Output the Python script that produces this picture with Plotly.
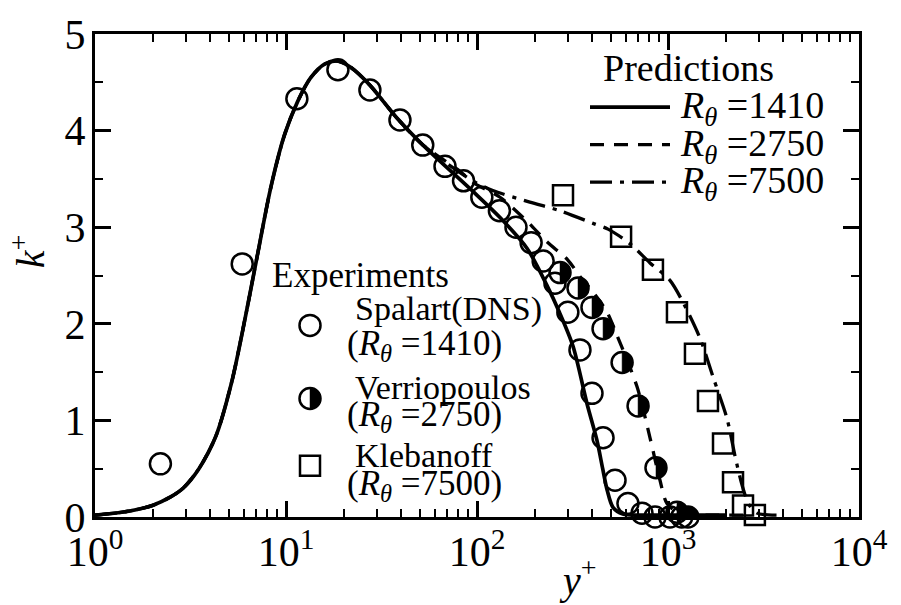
import plotly.graph_objects as go

# ---------------- data ----------------
# Experiments: Spalart DNS (R_theta = 1410)
spalart_y = [2.2, 5.9, 11.4, 18.7, 27.5, 39.5, 52, 68, 85, 106, 131, 160, 192, 222,
             256, 299, 346, 400, 457, 528, 617, 731, 855, 1024, 1180]
spalart_k = [0.55, 2.62, 4.33, 4.63, 4.42, 4.11, 3.85, 3.63, 3.48, 3.31, 3.17, 3.00,
             2.84, 2.65, 2.42, 2.12, 1.73, 1.28, 0.82, 0.38, 0.14, 0.04, 0.0, 0.0, 0.0]

# Experiments: Verriopoulos (R_theta = 2750)
verrio_y = [272, 338, 400, 457, 575, 697, 865, 1114, 1272]
verrio_k = [2.53, 2.37, 2.17, 1.95, 1.60, 1.15, 0.51, 0.05, 0.0]

# Experiments: Klebanoff (R_theta = 7500)
kleb_y = [282, 568, 834, 1114, 1384, 1619, 1941, 2190, 2470, 2850]
kleb_k = [3.33, 2.90, 2.56, 2.12, 1.69, 1.20, 0.76, 0.36, 0.12, 0.02]

# Predictions: near-wall part shared by all three cases
wall_y = [1, 1.5, 2.0, 2.5, 2.9, 3.5, 4.3, 5.2, 6.1, 7.1, 8.3, 9.8, 11.5, 13.5,
          16, 18.7, 22, 27.5, 38.1, 52.1]
wall_k = [0.02, 0.06, 0.12, 0.21, 0.30, 0.50, 0.84, 1.40, 2.05, 2.72, 3.40, 3.95,
          4.30, 4.55, 4.69, 4.72, 4.65, 4.47, 4.13, 3.85]

# Predictions: outer parts
pred1410_y = [69.7, 95.3, 132, 183, 232, 270, 318, 377, 425, 455, 480, 515, 580, 700,
              1000, 1500, 2000]
pred1410_k = [3.65, 3.37, 3.10, 2.78, 2.40, 2.12, 1.77, 1.17, 0.79, 0.50, 0.28, 0.10,
              0.03, 0.02, 0.02, 0.02, 0.02]

pred2750_y = [69.7, 81.5, 94, 132, 183, 232, 299, 346, 415, 480, 541, 688, 805, 908,
              988, 1156, 1600, 2500]
pred2750_k = [3.65, 3.58, 3.47, 3.31, 3.06, 2.85, 2.66, 2.49, 2.30, 2.12, 1.88, 1.35,
              0.82, 0.38, 0.14, 0.04, 0.02, 0.02]

pred7500_y = [69.7, 95, 121, 189, 272, 405, 485, 632, 805, 1024, 1200, 1471, 1721,
              2036, 2250, 2450, 2650, 2925, 3700]
pred7500_k = [3.66, 3.48, 3.38, 3.26, 3.17, 3.04, 2.98, 2.83, 2.63, 2.45, 2.22, 1.85,
              1.45, 1.02, 0.62, 0.32, 0.13, 0.04, 0.02]

x_tickvals = [1, 10, 100, 1000, 10000]
x_ticktext = ["10<sup>0</sup>", "10<sup>1</sup>", "10<sup>2</sup>",
              "10<sup>3</sup>", "10<sup>4</sup>"]

# ---------------- layout helpers ----------------
W, H = 901, 605
ML, MR, MT, MB = 95, 42, 28, 88
PW, PH = W - ML - MR, H - MT - MB
SERIF = "Liberation Serif"
BLACK = "black"


def px2paper(px, py):
    return (px - ML) / PW, (H - MB - py) / PH


def half_disk(r):
    c = 0.5523 * r
    return (f"M0,{-r} C{c:.3f},{-r} {r},{-c:.3f} {r},0 "
            f"C{r},{c:.3f} {c:.3f},{r} 0,{r} Z")


def text(s, px, py, size, xanchor="left", **kw):
    x, y = px2paper(px, py)
    return dict(text=s, x=x, y=y, xref="paper", yref="paper", xanchor=xanchor,
                yanchor="middle", showarrow=False,
                font=dict(family=SERIF, size=size, color=BLACK), **kw)


SOLID = dict(color=BLACK, width=3.7, dash="solid")
DASH = dict(color=BLACK, width=3.3, dash="14px,10px")
DASHDOT = dict(color=BLACK, width=3.3, dash="22px,8px,4px,8px")

fig = go.Figure()

for ys, ks, style in [(wall_y + pred1410_y[1:], wall_k + pred1410_k[1:], SOLID),
                      (wall_y + pred2750_y[1:], wall_k + pred2750_k[1:], DASH),
                      (wall_y + pred7500_y[1:], wall_k + pred7500_k[1:], DASHDOT)]:
    fig.add_trace(go.Scatter(x=ys, y=ks, mode="lines",
                             line=dict(style, shape="spline", smoothing=0.8),
                             showlegend=False, hoverinfo="skip"))

circle_marker = dict(symbol="circle-open", size=21, color=BLACK, line=dict(width=2.5))
fig.add_trace(go.Scatter(x=spalart_y, y=spalart_k, mode="markers",
                         marker=circle_marker, cliponaxis=False, showlegend=False))
fig.add_trace(go.Scatter(x=verrio_y, y=verrio_k, mode="markers",
                         marker=circle_marker, cliponaxis=False, showlegend=False))
fig.add_trace(go.Scatter(x=kleb_y, y=kleb_k, mode="markers",
                         marker=dict(symbol="square-open", size=20, color=BLACK,
                                     line=dict(width=2.5)),
                         cliponaxis=False, showlegend=False))

# empty trace that carries the mirrored top/right tick axes
fig.add_trace(go.Scatter(x=[], y=[], xaxis="x2", yaxis="y2", showlegend=False))

shapes = []
# right half of each Verriopoulos circle filled black
for xv, kv in zip(verrio_y, verrio_k):
    shapes.append(dict(type="path", xref="x", yref="y", xsizemode="pixel",
                       ysizemode="pixel", xanchor=xv, yanchor=kv,
                       path=half_disk(10.5), fillcolor=BLACK,
                       line=dict(color=BLACK, width=0.5), layer="above"))

annotations = []

# ---- Predictions key ----
annotations.append(text("Predictions", 688, 62, 38, xanchor="center"))
for py, style, label in [(102, SOLID, "1410"), (140, DASH, "2750"), (178, DASHDOT, "7500")]:
    x0, y0 = px2paper(590, py)
    x1, _ = px2paper(670, py)
    shapes.append(dict(type="line", xref="paper", yref="paper", x0=x0, x1=x1, y0=y0, y1=y0,
                       line=dict(color=BLACK, width=style["width"], dash=style["dash"])))
    annotations.append(text(f"<i>R</i><sub><i>θ</i></sub> ={label}", 678, py + 1, 38))

# ---- Experiments key ----
annotations.append(text("Experiments", 360, 272, 35, xanchor="center"))
exp_rows = [(323, "circle", "Spalart(DNS)", "1410", 306, 343),
            (397, "half", "Verriopoulos", "2750", 386, 415),
            (465, "square", "Klebanoff", "7500", 455, 485)]
for my, kind, name, rth, ny, ry in exp_rows:
    mx, myp = px2paper(310, my)
    common = dict(xref="paper", yref="paper", xsizemode="pixel", ysizemode="pixel",
                  xanchor=mx, yanchor=myp, line=dict(color=BLACK, width=2.5))
    if kind == "square":
        shapes.append(dict(type="rect", x0=-10, x1=10, y0=-10, y1=10, **common))
    else:
        shapes.append(dict(type="circle", x0=-10.5, x1=10.5, y0=-10.5, y1=10.5, **common))
    if kind == "half":
        shapes.append(dict(type="path", xref="paper", yref="paper", xsizemode="pixel",
                           ysizemode="pixel", xanchor=mx, yanchor=myp,
                           path=half_disk(10.5), fillcolor=BLACK,
                           line=dict(color=BLACK, width=0.5)))
    annotations.append(text(name, 353, ny, 34))
    annotations.append(text(f"(<i>R</i><sub><i>θ</i></sub> ={rth})", 345, ry, 35))

# ---- axis titles ----
annotations.append(text("<i>y</i><sup>+</sup>", 578, 578, 40, xanchor="center"))
annotations.append(text("<i>k</i><sup>+</sup>", 28, 248, 40, xanchor="center",
                        textangle=-90))

tick_style = dict(ticks="inside", ticklen=16, tickwidth=2.5, tickcolor=BLACK,
                  showgrid=False, zeroline=False)
minor_style = dict(ticks="inside", ticklen=8, tickwidth=2, tickcolor=BLACK, showgrid=False)
line_style = dict(showline=True, linewidth=3, linecolor=BLACK, mirror=True)
tickfont = dict(family=SERIF, size=42, color=BLACK)

fig.update_layout(
    width=W, height=H,
    margin=dict(l=ML, r=MR, t=MT, b=MB, pad=0),
    paper_bgcolor="white", plot_bgcolor="white",
    showlegend=False,
    xaxis=dict(type="log", range=[0, 4], tickmode="array", tickvals=x_tickvals,
               ticktext=x_ticktext, ticklabelstandoff=-4, tickfont=tickfont,
               minor=dict(minor_style, dtick="D1"), **tick_style, **line_style),
    yaxis=dict(range=[0, 5], dtick=1, ticklabelstandoff=-2, tickfont=tickfont,
               minor=dict(minor_style, dtick=0.5), **tick_style, **line_style),
    xaxis2=dict(type="log", range=[0, 4], overlaying="x", side="top",
                tickmode="array", tickvals=x_tickvals, showticklabels=False,
                minor=dict(minor_style, dtick="D1"), **tick_style),
    yaxis2=dict(range=[0, 5], overlaying="y", side="right", dtick=1,
                showticklabels=False, minor=dict(minor_style, dtick=0.5), **tick_style),
    shapes=shapes,
    annotations=annotations,
)

fig.write_html("out.html")
